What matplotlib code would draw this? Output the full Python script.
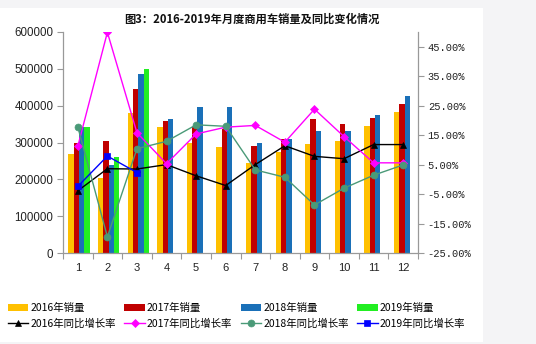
import matplotlib
matplotlib.use("Agg")
import matplotlib.pyplot as plt
import numpy as np
from matplotlib.patches import Rectangle
from matplotlib.ticker import FixedLocator, NullFormatter

plt.rcParams['font.family'] = ['Noto Sans CJK SC', 'DejaVu Sans']

months = ['1', '2', '3', '4', '5', '6', '7', '8', '9', '10', '11', '12']
sales_2016 = [270000, 203000, 381000, 341000, 298000, 287000, 245000, 275000, 296000, 305000, 346000, 383000]
sales_2017 = [300000, 305000, 444000, 359000, 343000, 338000, 290000, 309000, 364000, 350000, 366000, 405000]
sales_2018 = [343000, 239000, 485000, 364000, 396000, 396000, 298000, 310000, 332000, 332000, 374000, 427000]
sales_2019 = [343000, 261000, 500000]
yoy_2016 = [-0.039, 0.036, 0.035, 0.050, 0.012, -0.021, 0.050, 0.114, 0.078, 0.070, 0.118, 0.118]
yoy_2017 = [0.112, 0.499, 0.158, 0.053, 0.154, 0.177, 0.183, 0.126, 0.238, 0.145, 0.056, 0.056]
yoy_2018 = [0.178, -0.195, 0.104, 0.129, 0.185, 0.180, 0.032, 0.007, -0.087, -0.030, 0.014, 0.049]
yoy_2019 = [-0.024, 0.079, 0.023]

bar_series = [
    ('2016年销量', sales_2016, '#FFC000'),
    ('2017年销量', sales_2017, '#C00000'),
    ('2018年销量', sales_2018, '#1A70B8'),
    ('2019年销量', sales_2019, '#22EE22'),
]
line_series = [
    ('2016年同比增长率', yoy_2016, '#000000', '^', 5),
    ('2017年同比增长率', yoy_2017, '#FF00FF', 'D', 4),
    ('2018年同比增长率', yoy_2018, '#4A9A78', 'o', 5),
    ('2019年同比增长率', yoy_2019, '#0000FF', 's', 5),
]

fig = plt.figure(figsize=(5.36, 3.44), dpi=100)
fig.patch.set_facecolor('#F4F4F6')
fig.add_artist(Rectangle((0, 2 / 344), 483 / 536, 334 / 344, transform=fig.transFigure,
                         facecolor='white', edgecolor='none', zorder=0))

ax = fig.add_axes([63 / 536, 1 - 253 / 344, 355 / 536, 221 / 344])
ax.set_facecolor('none')
n = len(months)
x = np.arange(n)
w = 0.18
bar_handles = []
for i, (lab, vals, col) in enumerate(bar_series):
    xs = x[:len(vals)] + (i - 1.25) * w
    h = ax.bar(xs, vals, width=w, color=col, label=lab, zorder=2, linewidth=0)
    bar_handles.append(h)

ax.set_xlim(-0.5, n - 0.5)
ax.set_ylim(0, 600000)
ax.set_yticks(np.arange(0, 600001, 100000))
ax.set_yticklabels([f'{int(v)}' for v in np.arange(0, 600001, 100000)],
                   fontsize=8.3, family=['Liberation Sans'], color='#222222')
ax.xaxis.set_major_locator(FixedLocator(np.arange(-0.5, n, 1.0)))
ax.xaxis.set_major_formatter(NullFormatter())
ax.xaxis.set_minor_locator(FixedLocator(x))
ax.set_xticklabels(months, minor=True, fontsize=8, family=['Liberation Sans'], color='#222222')
ax.tick_params(axis='x', which='minor', length=0, pad=7)
ax.tick_params(axis='x', which='major', length=4, color='#999999', direction='out')
ax.tick_params(axis='y', length=4, color='#999999', direction='out', pad=3)
for s in ['top', 'right']:
    ax.spines[s].set_visible(False)
for s in ['left', 'bottom']:
    ax.spines[s].set_color('#999999')
    ax.spines[s].set_linewidth(0.9)

ax2 = ax.twinx()
line_handles = []
for lab, vals, col, mk, ms in line_series:
    h, = ax2.plot(x[:len(vals)], vals, color=col, marker=mk, markersize=ms, linewidth=1.0,
                  label=lab, markeredgewidth=0.5, zorder=3)
    line_handles.append(h)
ax2.set_ylim(-0.25, 0.50)
rticks = np.arange(-0.25, 0.46, 0.10)
ax2.set_yticks(rticks)
ax2.set_yticklabels([f'{v * 100:.2f}%' for v in rticks], fontsize=7.5,
                    family=['Liberation Mono'], color='#222222')
ax2.tick_params(axis='y', length=4, color='#999999', direction='out', pad=3)
for s in ['top', 'left', 'bottom']:
    ax2.spines[s].set_visible(False)
ax2.spines['right'].set_color('#999999')
ax2.spines['right'].set_linewidth(0.9)

fig.text(252 / 536, 1 - 19 / 344, '图3：2016-2019年月度商用车销量及同比变化情况',
         ha='center', va='center', fontsize=8.1, fontweight='bold', color='#111111')

handles = []
for b, l in zip(bar_handles, line_handles):
    handles += [b, l]
leg = fig.legend(handles=handles, labels=[h.get_label() for h in handles], ncol=4,
                 loc='upper left', bbox_to_anchor=(8 / 536, 1 - 303 / 344),
                 frameon=False, fontsize=7.5, handlelength=1.95, handletextpad=0.2,
                 columnspacing=0.82, labelspacing=0.5, borderpad=0, borderaxespad=0)

fig.savefig('out.png', dpi=100, facecolor=fig.get_facecolor())
